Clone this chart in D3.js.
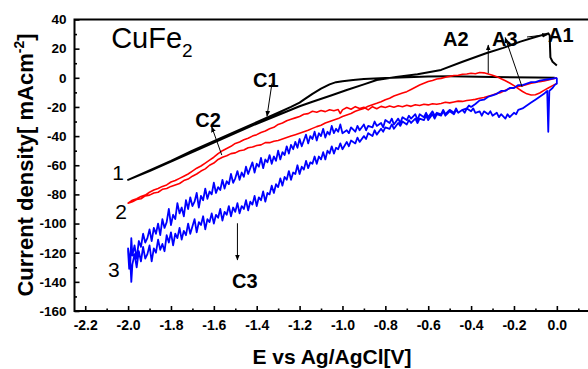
<!DOCTYPE html>
<meta charset="utf-8">
<style>
body { margin: 0; background: #fff; }
svg { font-family: "Liberation Sans", Arial, sans-serif; }
</style>
<body>
<script src="https://cdn.jsdelivr.net/npm/d3@7"></script>
<script>

// ---- data (E in V vs Ag/AgCl, j in mA cm^-2), each branch in rising E order ----

// curve 1, black: cathodic branch (flat near 0, S-shaped drop) and anodic branch (with A1 hook)
var blackCath = [[-2.00,-70],[-1.90,-63.5],[-1.80,-57],[-1.70,-50],[-1.60,-43.5],[-1.50,-37],[-1.40,-30.5],
  [-1.30,-24],[-1.24,-20],[-1.20,-17],[-1.18,-15],[-1.14,-11],[-1.10,-7.5],[-1.06,-4.5],[-1.03,-3],
  [-1.00,-2.3],[-0.95,-1.5],[-0.90,-0.8],[-0.80,-0.2],[-0.70,0.4],[-0.60,0.9],[-0.50,1],[-0.30,0.6],
  [-0.10,0.2],[-0.01,0]];
var blackAnod = [[-2.00,-70],[-1.90,-64],[-1.80,-57.5],[-1.70,-51],[-1.60,-44.5],[-1.50,-38],[-1.40,-31.5],
  [-1.30,-25.5],[-1.20,-19.5],[-1.14,-16.4],[-1.05,-12],[-0.98,-8.4],[-0.90,-4.5],[-0.84,-1.5],[-0.75,0.5],
  [-0.65,2.4],[-0.54,5.4],[-0.44,11],[-0.33,16.8],[-0.25,20.5],[-0.17,24.8],[-0.10,28],[-0.04,30.5],
  [-0.033,29],[-0.032,22],[-0.03,14],[-0.02,11],[0.00,8.5]];

// curve 2, red
var redCath = [[-2.00,-86],[-1.98,-84],[-1.96,-83],[-1.94,-81.5],[-1.92,-80.5],[-1.90,-78.5],[-1.88,-77],
  [-1.86,-76],[-1.84,-74.5],[-1.82,-73.5],[-1.80,-71.5],[-1.78,-70.5],[-1.76,-69],[-1.74,-67.5],[-1.72,-66],
  [-1.70,-64],[-1.68,-62],[-1.66,-60.5],[-1.64,-58.5],[-1.62,-56.5],[-1.60,-54.5],[-1.58,-52],[-1.56,-50],
  [-1.54,-48.5],[-1.52,-47],[-1.50,-45],[-1.48,-44],[-1.46,-42.5],[-1.44,-41.5],[-1.42,-40],[-1.40,-39],
  [-1.38,-37.5],[-1.36,-36.5],[-1.34,-35],[-1.32,-34],[-1.30,-32],[-1.28,-31],[-1.26,-29.5],[-1.24,-28.5],
  [-1.22,-27.5],[-1.20,-26.5],[-1.18,-25],[-1.16,-24.6],[-1.14,-23],[-1.12,-23.6],[-1.10,-22.4],[-1.08,-23.2],
  [-1.06,-21.9],[-1.04,-22.6],[-1.02,-21.8],[-1.01,-24.5],[-1.00,-22],[-0.98,-20.4],[-0.96,-21.6],[-0.94,-19.8],
  [-0.92,-21],[-0.90,-20.2],[-0.88,-22],[-0.86,-19.8],[-0.84,-21.2],[-0.82,-19.6],[-0.80,-20.4],[-0.78,-19.4],
  [-0.76,-20.2],[-0.74,-19.2],[-0.72,-19.9],[-0.70,-18.8],[-0.68,-19.6],[-0.66,-18.5],[-0.64,-19],[-0.62,-18.2],
  [-0.60,-18.6],[-0.58,-17.8],[-0.56,-18.2],[-0.54,-17.6],[-0.52,-16.8],[-0.50,-17.2],[-0.48,-16.6],[-0.46,-16],
  [-0.44,-16.2],[-0.42,-15.6],[-0.40,-15.2],[-0.38,-14.8],[-0.36,-14],[-0.34,-13.5],[-0.32,-12.6],[-0.30,-11.8],
  [-0.28,-10.8],[-0.26,-10],[-0.24,-8.6],[-0.22,-7.4],[-0.20,-6.8],[-0.18,-6],[-0.16,-5.4],[-0.14,-4.6],
  [-0.12,-3.8],[-0.10,-3.2],[-0.08,-2.6],[-0.06,-2.2],[-0.04,-1.5],[-0.02,-0.8],[0.00,0]];
var redAnod = [[-2.00,-86],[-1.98,-85],[-1.96,-83.5],[-1.94,-83],[-1.92,-81],[-1.90,-80.5],[-1.88,-79],
  [-1.86,-78.5],[-1.84,-76.5],[-1.82,-76],[-1.80,-74.5],[-1.78,-73.5],[-1.76,-72.5],[-1.74,-70.5],[-1.72,-69.5],
  [-1.70,-67.5],[-1.68,-66],[-1.66,-64],[-1.64,-62.5],[-1.62,-60],[-1.60,-58.5],[-1.58,-56],[-1.56,-54.5],
  [-1.54,-53.5],[-1.52,-52],[-1.50,-51.5],[-1.48,-50],[-1.46,-49.5],[-1.44,-48],[-1.42,-47.5],[-1.40,-46.5],
  [-1.38,-46],[-1.36,-44.5],[-1.34,-44.5],[-1.32,-43.5],[-1.30,-43],[-1.28,-42],[-1.26,-41],[-1.24,-40],
  [-1.22,-39],[-1.20,-38],[-1.18,-37],[-1.16,-36],[-1.14,-34.7],[-1.12,-33.5],[-1.10,-32.5],[-1.08,-31],
  [-1.06,-30],[-1.04,-29],[-1.02,-28],[-1.00,-26.5],[-0.98,-25.5],[-0.96,-24.5],[-0.94,-23],[-0.92,-22],
  [-0.90,-21],[-0.88,-19.5],[-0.86,-18.5],[-0.84,-17.5],[-0.82,-16.4],[-0.80,-15],[-0.78,-14],[-0.76,-12.5],
  [-0.74,-11.5],[-0.72,-10.5],[-0.70,-9.5],[-0.68,-8],[-0.66,-6.5],[-0.64,-5],[-0.62,-3.8],[-0.60,-2.6],
  [-0.58,-1.8],[-0.56,-0.8],[-0.54,-0.4],[-0.52,0.4],[-0.50,1],[-0.48,1.6],[-0.46,1.8],[-0.44,2.4],
  [-0.42,2.6],[-0.40,3.1],[-0.38,2.8],[-0.36,3.6],[-0.34,3.4],[-0.32,2.6],[-0.30,1.8],[-0.28,0.8],
  [-0.26,-0.6],[-0.24,-2],[-0.22,-3.6],[-0.20,-5.4],[-0.18,-7.4],[-0.16,-9.4],[-0.14,-11],[-0.12,-11.8],
  [-0.10,-11.6],[-0.08,-10.4],[-0.06,-8.6],[-0.04,-7],[-0.02,-5.4],[0.00,-3.8]];

// curve 3, blue (noisy)
var blueCath = [[-2.00,-117],[-1.99,-128],[-1.985,-110],[-1.98,-122],[-1.97,-115],[-1.96,-124],[-1.95,-112],
  [-1.94,-116],[-1.93,-107],[-1.92,-113],[-1.91,-110],[-1.90,-104],[-1.89,-112],[-1.88,-103],[-1.87,-107],
  [-1.86,-100],[-1.85,-108],[-1.84,-97],[-1.83,-103],[-1.82,-99],[-1.81,-90],[-1.80,-101],[-1.79,-94],
  [-1.78,-97],[-1.77,-86],[-1.76,-93],[-1.75,-89],[-1.74,-95],[-1.73,-84],[-1.72,-90],[-1.71,-82],[-1.70,-88],
  [-1.69,-85],[-1.68,-79],[-1.67,-89],[-1.66,-81],[-1.65,-84],[-1.64,-76],[-1.63,-83],[-1.62,-78],[-1.61,-80],
  [-1.60,-72],[-1.59,-79],[-1.58,-75],[-1.57,-77],[-1.56,-70],[-1.55,-76],[-1.54,-71],[-1.53,-73],[-1.52,-66],
  [-1.51,-72],[-1.50,-69],[-1.49,-64],[-1.48,-70],[-1.47,-65],[-1.46,-68],[-1.45,-61],[-1.44,-66],[-1.43,-62],
  [-1.42,-58],[-1.41,-65],[-1.40,-59],[-1.39,-61],[-1.38,-55],[-1.37,-62],[-1.36,-56],[-1.35,-58],[-1.34,-53],
  [-1.33,-59],[-1.32,-54],[-1.31,-57],[-1.30,-50],[-1.29,-56],[-1.28,-51],[-1.27,-53],[-1.26,-47],[-1.25,-52],
  [-1.24,-46],[-1.23,-49],[-1.22,-44],[-1.21,-48],[-1.20,-42],[-1.19,-47],[-1.18,-43],[-1.17,-39],[-1.16,-45],
  [-1.15,-40],[-1.14,-42],[-1.13,-37],[-1.12,-43],[-1.11,-38],[-1.10,-40],[-1.09,-35],[-1.08,-41],[-1.07,-37],
  [-1.06,-39],[-1.05,-33],[-1.04,-38],[-1.03,-35],[-1.02,-37],[-1.01,-32],[-1.00,-38],[-0.98,-36],[-0.97,-38],
  [-0.96,-34],[-0.94,-37],[-0.93,-33],[-0.92,-36],[-0.90,-32],[-0.89,-36],[-0.88,-33],[-0.86,-34],[-0.85,-30],
  [-0.84,-33],[-0.82,-31],[-0.81,-34],[-0.80,-29],[-0.78,-31],[-0.77,-28],[-0.76,-32],[-0.74,-28],[-0.73,-31],
  [-0.72,-27],[-0.70,-29],[-0.69,-26],[-0.68,-28],[-0.66,-25],[-0.65,-29],[-0.64,-25],[-0.62,-27],[-0.61,-24],
  [-0.60,-27],[-0.58,-23],[-0.57,-26],[-0.56,-24],[-0.54,-25],[-0.53,-22],[-0.52,-25],[-0.50,-22],[-0.48,-24],
  [-0.47,-21],[-0.46,-24],[-0.44,-22],[-0.42,-21],[-0.41,-19],[-0.40,-20],[-0.38,-18],[-0.36,-15.5],[-0.34,-15],
  [-0.32,-13],[-0.30,-12],[-0.28,-11],[-0.26,-9],[-0.24,-9],[-0.22,-7],[-0.20,-7],[-0.18,-5],[-0.16,-5],
  [-0.14,-4],[-0.12,-3],[-0.10,-3],[-0.08,-2],[-0.06,-1.5],[-0.04,-1],[-0.02,-0.5],[0.00,0]];
var blueAnod = [[-2.00,-119],[-1.995,-131],[-1.99,-125],[-1.985,-140],[-1.98,-128],[-1.97,-121],[-1.96,-130],
  [-1.95,-119],[-1.94,-126],[-1.93,-116],[-1.92,-124],[-1.91,-121],[-1.90,-115],[-1.89,-126],[-1.88,-117],
  [-1.87,-120],[-1.86,-111],[-1.85,-118],[-1.84,-114],[-1.83,-119],[-1.82,-108],[-1.81,-113],[-1.80,-106],
  [-1.79,-115],[-1.78,-107],[-1.77,-110],[-1.76,-103],[-1.75,-111],[-1.74,-105],[-1.73,-108],[-1.72,-100],
  [-1.71,-107],[-1.70,-102],[-1.69,-97],[-1.68,-106],[-1.67,-99],[-1.66,-101],[-1.65,-95],[-1.64,-104],
  [-1.63,-97],[-1.62,-99],[-1.61,-93],[-1.60,-100],[-1.59,-94],[-1.58,-96],[-1.57,-90],[-1.56,-98],[-1.55,-92],
  [-1.54,-94],[-1.53,-88],[-1.52,-95],[-1.51,-89],[-1.50,-92],[-1.49,-86],[-1.48,-93],[-1.47,-88],[-1.46,-90],
  [-1.45,-84],[-1.44,-91],[-1.43,-85],[-1.42,-87],[-1.41,-81],[-1.40,-88],[-1.39,-82],[-1.38,-84],[-1.37,-78],
  [-1.36,-85],[-1.35,-79],[-1.34,-80],[-1.33,-74],[-1.32,-79],[-1.31,-73],[-1.30,-75],[-1.29,-69],[-1.28,-74],
  [-1.27,-68],[-1.26,-70],[-1.25,-64],[-1.24,-70],[-1.23,-65],[-1.22,-66],[-1.21,-60],[-1.20,-66],[-1.19,-61],
  [-1.18,-63],[-1.17,-57],[-1.16,-62],[-1.15,-58],[-1.14,-59],[-1.13,-54],[-1.12,-59],[-1.11,-54],[-1.10,-56],
  [-1.09,-51],[-1.08,-56],[-1.07,-50],[-1.06,-52],[-1.05,-47],[-1.04,-52],[-1.03,-48],[-1.02,-49],[-1.01,-45],
  [-1.00,-49],[-0.98,-44],[-0.97,-47],[-0.96,-43],[-0.94,-45],[-0.93,-41],[-0.92,-44],[-0.90,-40],[-0.89,-42],
  [-0.88,-38],[-0.86,-40],[-0.85,-36],[-0.84,-39],[-0.82,-35],[-0.81,-37],[-0.80,-34],[-0.78,-35],[-0.77,-32],
  [-0.76,-35],[-0.74,-31],[-0.73,-33],[-0.72,-30],[-0.70,-32],[-0.69,-29],[-0.68,-31],[-0.66,-28],[-0.65,-31],
  [-0.64,-28],[-0.62,-29],[-0.61,-26],[-0.60,-29],[-0.58,-25],[-0.57,-28],[-0.56,-25],[-0.54,-26],[-0.53,-23],
  [-0.52,-26],[-0.50,-23],[-0.48,-25],[-0.47,-22],[-0.46,-24],[-0.44,-22],[-0.43,-24],[-0.42,-21],[-0.40,-23],
  [-0.39,-21],[-0.38,-24],[-0.36,-23],[-0.35,-26],[-0.34,-23],[-0.32,-25],[-0.31,-23],[-0.30,-26],[-0.28,-24],
  [-0.27,-27],[-0.26,-25],[-0.24,-28],[-0.23,-25],[-0.22,-27],[-0.20,-24],[-0.19,-25],[-0.18,-22],[-0.16,-21],
  [-0.14,-19],[-0.12,-17],[-0.10,-15],[-0.08,-13],[-0.06,-11],[-0.045,-9],[-0.04,-37],[-0.035,-9],[-0.02,-7],
  [-0.01,-5],[0.00,-4],[0.00,0]];

var xTicks = [-2.2,-2.0,-1.8,-1.6,-1.4,-1.2,-1.0,-0.8,-0.6,-0.4,-0.2,0.0];
var xMinor = [-2.1,-1.9,-1.7,-1.5,-1.3,-1.1,-0.9,-0.7,-0.5,-0.3,-0.1,0.1];
var yTicks = [40,20,0,-20,-40,-60,-80,-100,-120,-140,-160];
var yMinor = [30,10,-10,-30,-50,-70,-90,-110,-130,-150];

// annotation texts in data units
var notes = [["C1",-1.417,-6.3],["C2",-1.687,-33.8],["C3",-1.515,-144.2],
             ["A2",-0.531,21.8],["A3",-0.302,21.8],["A1",-0.041,24.9]];
var curveNums = [["1",-2.047,-70.1],["2",-2.033,-96.9],["3",-2.066,-136.7]];
// arrows: from [E,j] to [E,j]
var arrows = [[[-1.329,-3.8],[-1.352,-26.4]],[[-1.563,-53],[-1.61,-33.6]],[[-1.49,-99.8],[-1.49,-125]],
              [[-0.32,3.1],[-0.32,22.5]],[[-0.162,-6.3],[-0.241,27.6]],[[-0.139,28],[-0.043,29.6]]];

var width = 588, height = 369;

var svg = d3.select("body").append("svg")
  .attr("width", width)
  .attr("height", height);

var x = d3.scaleLinear().domain([-2.25, 0.15]).range([74.5, 589]);
var y = d3.scaleLinear().domain([-160, 40]).range([311, 19.5]);

svg.append("defs").append("marker")
  .attr("id", "head")
  .attr("viewBox", "0 0 10 10")
  .attr("refX", 9).attr("refY", 5)
  .attr("markerWidth", 6).attr("markerHeight", 6)
  .attr("orient", "auto")
  .append("path").attr("d", "M0,1L10,5L0,9z").attr("fill", "#000");

// axes
var gx = svg.append("g").attr("transform", "translate(0," + y.range()[0] + ")")
  .call(d3.axisBottom(x).tickValues(xTicks).tickFormat(function(d){ return d.toFixed(1); })
    .tickSize(-5).tickPadding(9));
var gxm = svg.append("g").attr("transform", "translate(0," + y.range()[0] + ")")
  .call(d3.axisBottom(x).tickValues(xMinor).tickFormat("").tickSize(-2.5));
var gy = svg.append("g").attr("transform", "translate(" + x.range()[0] + ",0)")
  .call(d3.axisLeft(y).tickValues(yTicks).tickFormat(function(d){ return String(d); })
    .tickSize(-5).tickPadding(8));
var gym = svg.append("g").attr("transform", "translate(" + x.range()[0] + ",0)")
  .call(d3.axisLeft(y).tickValues(yMinor).tickFormat("").tickSize(-2.5));

[gx, gxm, gy, gym].forEach(function(g){
  g.select(".domain").remove();
  g.selectAll("line").attr("stroke", "#000").attr("stroke-width", 1.6);
  g.selectAll("text").attr("fill", "#000").style("font-weight", "bold")
   .style("font-family", "'Liberation Sans', Arial, sans-serif");
});
gx.selectAll("text").style("font-size", "14px");
gy.selectAll("text").style("font-size", "13.5px");

// frame
svg.append("path")
  .attr("d", "M" + x.range()[1] + "," + y.range()[1] + "H" + x.range()[0] + "V" + y.range()[0] + "H" + x.range()[1])
  .attr("fill", "none").attr("stroke", "#000").attr("stroke-width", 2);

// curves
var line = d3.line().x(function(d){ return x(d[0]); }).y(function(d){ return y(d[1]); });
var curves = [
  {pts: blackCath.slice().reverse().concat(blackAnod), color: "#000", w: 2},
  {pts: redCath.slice().reverse().concat(redAnod), color: "#ff0000", w: 1.6},
  {pts: blueCath.slice().reverse().concat(blueAnod), color: "#0000ff", w: 1.8}
];
svg.selectAll(".cv").data(curves).enter().append("path")
  .attr("class", "cv")
  .attr("d", function(d){ return line(d.pts); })
  .attr("fill", "none")
  .attr("stroke", function(d){ return d.color; })
  .attr("stroke-width", function(d){ return d.w; })
  .attr("stroke-linejoin", "round");

// arrows
svg.selectAll(".arr").data(arrows).enter().append("line")
  .attr("class", "arr")
  .attr("x1", function(d){ return x(d[0][0]); }).attr("y1", function(d){ return y(d[0][1]); })
  .attr("x2", function(d){ return x(d[1][0]); }).attr("y2", function(d){ return y(d[1][1]); })
  .attr("stroke", "#000").attr("stroke-width", 1)
  .attr("marker-end", "url(#head)");

// labels
svg.selectAll(".note").data(notes).enter().append("text")
  .attr("class", "note")
  .attr("x", function(d){ return x(d[1]); }).attr("y", function(d){ return y(d[2]); })
  .style("font-size", "20px").style("font-weight", "bold")
  .text(function(d){ return d[0]; });

svg.selectAll(".num").data(curveNums).enter().append("text")
  .attr("class", "num")
  .attr("x", function(d){ return x(d[1]); }).attr("y", function(d){ return y(d[2]); })
  .attr("text-anchor", "middle")
  .style("font-size", "21px")
  .text(function(d){ return d[0]; });

var title = svg.append("text")
  .attr("x", x(-2.079)).attr("y", y(20.4))
  .style("font-size", "29px");
title.append("tspan").text("CuFe");
title.append("tspan").attr("dy", 9).style("font-size", "19px").text("2");

// axis titles
svg.append("text")
  .attr("x", 332).attr("y", 364)
  .attr("text-anchor", "middle")
  .style("font-size", "21px").style("font-weight", "bold")
  .text("E vs Ag/AgCl[V]");

var yl = svg.append("text")
  .attr("transform", "translate(33,165) rotate(-90)")
  .attr("text-anchor", "middle")
  .style("font-size", "22px").style("font-weight", "bold");
yl.append("tspan").text("Current density[ mAcm");
yl.append("tspan").attr("dy", -9).style("font-size", "14px").text("-2");
yl.append("tspan").attr("dy", 9).text("]");

</script>
</body>
